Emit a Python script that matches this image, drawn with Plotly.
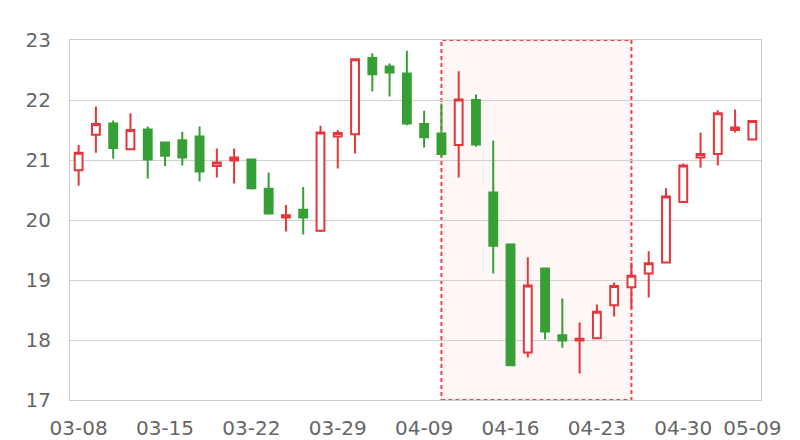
import plotly.graph_objects as go

dates = ["03-08", "03-11", "03-12", "03-13", "03-14", "03-15", "03-18", "03-19", "03-20", "03-21",
         "03-22", "03-25", "03-26", "03-27", "03-28", "03-29", "04-02", "04-03", "04-04", "04-08",
         "04-09", "04-10", "04-11", "04-12", "04-15", "04-16", "04-17", "04-18", "04-19", "04-22",
         "04-23", "04-24", "04-25", "04-26", "04-29", "04-30", "05-06", "05-07", "05-08", "05-09"]

open_ = [20.83, 21.42, 21.61, 21.18, 21.51, 21.29, 21.33, 21.39, 20.90, 20.99,
         21.01, 20.52, 20.04, 20.17, 19.82, 21.39, 21.43, 22.70, 22.56, 22.44,
         21.60, 21.44, 21.25, 22.00, 20.46, 19.59, 17.79, 19.19, 18.08, 17.99,
         18.03, 18.58, 18.88, 19.11, 19.29, 20.30, 21.04, 21.10, 21.50, 21.34]
close = [21.12, 21.60, 21.20, 21.50, 21.01, 21.07, 21.04, 20.81, 20.96, 21.04,
         20.53, 20.11, 20.08, 20.04, 21.46, 21.45, 22.68, 22.43, 22.46, 21.61,
         21.38, 21.10, 22.01, 21.26, 19.57, 17.58, 18.91, 18.14, 17.99, 18.02,
         18.47, 18.90, 19.07, 19.28, 20.39, 20.91, 21.10, 21.78, 21.54, 21.65]
high = [21.25, 21.89, 21.66, 21.78, 21.56, 21.31, 21.47, 21.56, 21.19, 21.19,
        21.02, 20.79, 20.25, 20.55, 21.57, 21.50, 22.68, 22.78, 22.61, 22.82,
        21.82, 21.94, 22.48, 22.09, 21.32, 19.60, 19.38, 19.19, 18.69, 18.29,
        18.59, 18.96, 19.29, 19.48, 20.53, 20.94, 21.46, 21.83, 21.84, 21.65]
low = [20.57, 21.12, 21.02, 21.18, 20.69, 20.90, 20.91, 20.64, 20.71, 20.61,
       20.51, 20.11, 19.81, 19.76, 19.80, 20.86, 21.11, 22.14, 22.06, 21.58,
       21.21, 21.06, 20.71, 21.22, 19.11, 17.58, 17.71, 18.01, 17.87, 17.44,
       18.02, 18.39, 18.53, 18.71, 19.29, 20.30, 20.87, 20.91, 21.46, 21.34]

tick_labels = ["03-08", "03-15", "03-22", "03-29", "04-09", "04-16", "04-23", "04-30", "05-09"]
y_ticks = [17, 18, 19, 20, 21, 22, 23]
area_start = "04-10"
area_end = "04-25"

RED = "#e5363c"
GREEN = "#36a036"

fig = go.Figure()
fig.add_trace(go.Candlestick(
    x=dates, open=open_, high=high, low=low, close=close,
    increasing=dict(line=dict(color=RED, width=2), fillcolor="#ffffff"),
    decreasing=dict(line=dict(color=GREEN, width=2), fillcolor=GREEN),
    whiskerwidth=0,
    showlegend=False,
    hoverinfo="x+y",
))

fig.add_shape(
    type="rect", xref="x", yref="y",
    x0=dates.index(area_start), x1=dates.index(area_end),
    y0=min(y_ticks), y1=max(y_ticks),
    fillcolor="rgba(255,236,236,0.45)",
    line=dict(color="#f2444a", width=2, dash="4px,3px"),
    layer="below",
)

fig.update_layout(
    width=792, height=432,
    margin=dict(l=62, r=39, t=32, b=40),
    paper_bgcolor="white", plot_bgcolor="white",
    boxgap=0.35,
    font=dict(family="DejaVu Sans", size=20, color="#666666"),
    xaxis=dict(
        type="category", categoryorder="array", categoryarray=dates,
        range=[-0.5, len(dates) - 0.5],
        tickvals=tick_labels, ticktext=tick_labels,
        showgrid=False, showline=True, linecolor="#cccccc", linewidth=1, mirror=True,
        ticks="", ticklen=0, rangeslider=dict(visible=False),
        tickfont=dict(size=20, color="#666666"),
        ticklabelstandoff=10,
        automargin=False,
        fixedrange=True,
    ),
    yaxis=dict(
        range=[min(y_ticks), max(y_ticks)], tickvals=y_ticks,
        showgrid=True, gridcolor="#d0d0d0", gridwidth=1,
        showline=True, linecolor="#cccccc", linewidth=1, mirror=True,
        zeroline=False, ticks="", ticklabelstandoff=14,
        automargin=False,
        tickfont=dict(size=20, color="#666666"),
    ),
)

fig.write_html("out.html")
